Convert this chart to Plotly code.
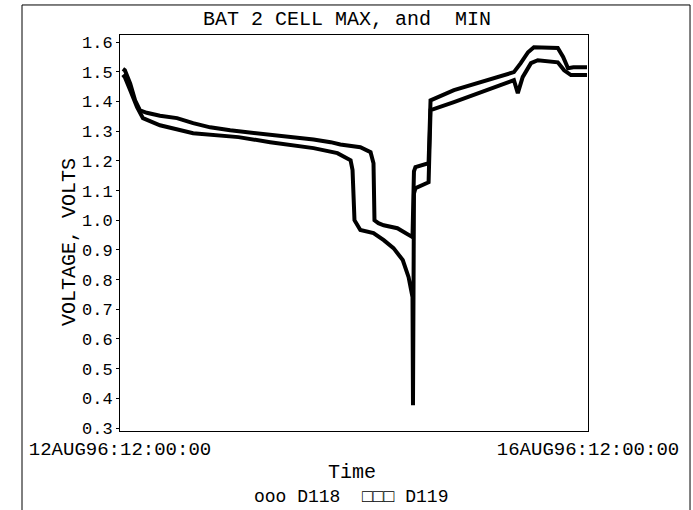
import plotly.graph_objects as go

# ---- data (hours after 12AUG96:12:00:00, volts) ----
max_hours = [0.6, 1.0, 2.1, 3.1, 4.1, 5.5, 8.2, 11.7, 15.0, 18.5, 22.6, 24.3, 32.9, 39.7,
             43.2, 45.2, 49.3, 51.4, 52.0, 52.2, 53.0, 54.1, 56.9, 59.0, 60.0, 60.3, 60.6,
             63.3, 63.5, 63.7, 68.5, 75.4, 80.8, 82.2, 83.7, 84.9, 89.8, 90.9, 91.9, 93.0, 95.8]
max_volts = [1.510, 1.505, 1.460, 1.404, 1.370, 1.362, 1.352, 1.344, 1.327, 1.313, 1.303, 1.300,
             1.287, 1.272, 1.263, 1.255, 1.246, 1.229, 1.192, 1.000, 0.990, 0.983, 0.973, 0.955,
             0.943, 1.165, 1.179, 1.192, 1.400, 1.404, 1.438, 1.472, 1.499, 1.529, 1.566, 1.583,
             1.580, 1.550, 1.512, 1.515, 1.515]

min_hours = [0.6, 1.0, 2.1, 3.5, 4.7, 8.2, 15.0, 24.3, 30.8, 39.7, 44.6, 47.3, 47.7, 48.1,
             49.3, 52.0, 54.1, 56.1, 58.0, 59.2, 60.0, 60.1, 60.3, 60.6, 63.3, 63.5, 63.7,
             68.5, 75.4, 80.8, 81.6, 82.6, 84.3, 85.7, 89.8, 91.1, 92.5, 95.8]
min_volts = [1.490, 1.482, 1.438, 1.381, 1.344, 1.320, 1.293, 1.280, 1.263, 1.243, 1.226, 1.202,
             1.169, 1.000, 0.967, 0.957, 0.933, 0.906, 0.866, 0.808, 0.741, 0.377, 1.090, 1.108,
             1.128, 1.360, 1.371, 1.398, 1.438, 1.472, 1.428, 1.482, 1.529, 1.539, 1.532, 1.505,
             1.489, 1.489]

series_names = ["D118", "D119"]
x_tick_vals = [0, 96]
x_tick_text = ["12AUG96:12:00:00", "16AUG96:12:00:00"]
y_tick_vals = [0.3, 0.4, 0.5, 0.6, 0.7, 0.8, 0.9, 1.0, 1.1, 1.2, 1.3, 1.4, 1.5, 1.6]

title_text = "BAT 2 CELL MAX, and\u00a0 MIN"
x_title = "Time"
y_title = "VOLTAGE, VOLTS"
legend_text = "ooo D118\u00a0 \u25a1\u25a1\u25a1 D119"

FONT = "Liberation Mono, DejaVu Sans Mono, monospace"

fig = go.Figure()
fig.add_trace(go.Scatter(x=max_hours, y=max_volts, mode="lines", name=series_names[0],
                         line=dict(color="black", width=4)))
fig.add_trace(go.Scatter(x=min_hours, y=min_volts, mode="lines", name=series_names[1],
                         line=dict(color="black", width=4)))

fig.update_layout(
    width=693, height=510,
    margin=dict(l=120, r=105, t=35, b=79, pad=0, autoexpand=False),
    paper_bgcolor="white", plot_bgcolor="white",
    showlegend=False,
    font=dict(family=FONT, color="black"),
)
fig.update_xaxes(range=[0, 96], tickvals=x_tick_vals, ticktext=x_tick_text,
                 showgrid=False, zeroline=False, showline=True, linecolor="black",
                 linewidth=1, mirror=True, ticks="", ticklabelstandoff=0, automargin=False,
                 tickfont=dict(family=FONT, size=19, color="black"))
fig.update_yaxes(range=[0.29, 1.624], tickvals=y_tick_vals, tickformat=".1f",
                 showgrid=False, zeroline=False, showline=True, linecolor="black",
                 linewidth=1, mirror=True, ticks="outside", ticklen=3, tickcolor="black",
                 automargin=False,
                 tickfont=dict(family=FONT, size=17, color="black"))

def txt(size):
    return dict(family=FONT, size=size, color="black")

fig.add_annotation(text=title_text, x=0.485, y=1.040, xref="paper", yref="paper",
                   xanchor="center", yanchor="middle", showarrow=False, font=txt(20))
fig.add_annotation(text=x_title, x=0.496, y=-0.106, xref="paper", yref="paper",
                   xanchor="center", yanchor="middle", showarrow=False, font=txt(20))
fig.add_annotation(text=legend_text, x=0.494, y=-0.167, xref="paper", yref="paper",
                   xanchor="center", yanchor="middle", showarrow=False, font=txt(18))
fig.add_annotation(text=y_title, x=-0.109, y=0.477, xref="paper", yref="paper",
                   xanchor="center", yanchor="middle", textangle=-90, showarrow=False,
                   font=txt(20))

# outer page frame
fig.add_shape(type="rect", xref="paper", yref="paper", x0=-0.2094, x1=1.218, y0=-0.25, y1=1.0758,
              line=dict(color="black", width=1), layer="below")

fig.write_html("out.html", config={"displayModeBar": False},
               post_script="document.body.style.margin='0';")
